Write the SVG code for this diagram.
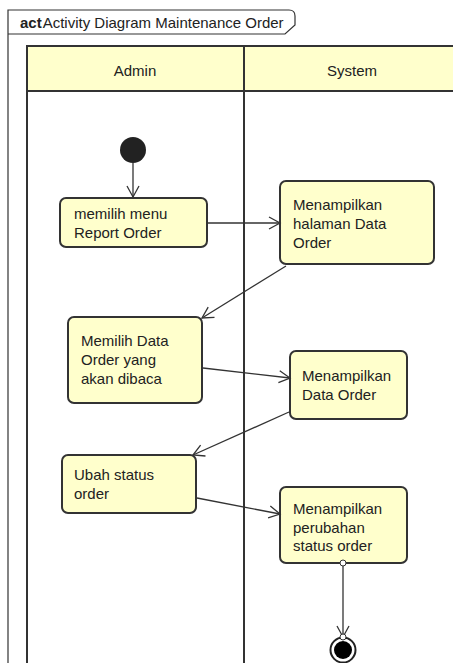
<svg xmlns="http://www.w3.org/2000/svg" width="453" height="663" viewBox="0 0 453 663">
<defs>
<marker id="ah" markerWidth="14" markerHeight="14" refX="12" refY="7" orient="auto" markerUnits="userSpaceOnUse">
<path d="M1,1 L12,7 L1,13" fill="none" stroke="#333" stroke-width="1.3"/>
</marker>
<style>
.t{font-family:"Liberation Sans",Arial,sans-serif;font-size:15px;fill:#222}
.box{fill:#ffffcc;stroke:#333;stroke-width:2}
.lane{fill:none;stroke:#333;stroke-width:2}
.c{fill:none;stroke:#333;stroke-width:1.3}
</style>
</defs>
<rect width="453" height="663" fill="#fff"/>
<g id="frame">
<path d="M8,663 L8,10 L289,10 Q295,10 295,16 L295,25 L285,34 L8,34" fill="#fff" stroke="#333" stroke-width="1.2"/>
<text class="t" x="20" y="28"><tspan font-weight="bold">act</tspan><tspan dx="1">Activity Diagram Maintenance Order</tspan></text>
</g>
<g id="lanes">
<rect x="27" y="46" width="440" height="45" fill="#ffffcc"/>
<path class="lane" d="M27,663 L27,46 L460,46 M27,91 L460,91 M244,46 L244,663"/>
<text class="t" x="135" y="76" text-anchor="middle">Admin</text>
<text class="t" x="352" y="76" text-anchor="middle">System</text>
</g>
<g id="start"><circle cx="133" cy="150" r="13" fill="#222"/></g>
<g id="n1"><rect class="box" x="60" y="198" width="147" height="49" rx="6"/>
<text class="t" x="74" y="219">memilih menu</text><text class="t" x="74" y="238">Report Order</text></g>
<g id="n2"><rect class="box" x="280" y="181" width="154" height="83" rx="6"/>
<text class="t" x="293" y="210">Menampilkan</text><text class="t" x="293" y="229">halaman Data</text><text class="t" x="293" y="248">Order</text></g>
<g id="n3"><rect class="box" x="68" y="317" width="134" height="86" rx="6"/>
<text class="t" x="81" y="346">Memilih Data</text><text class="t" x="81" y="365">Order yang</text><text class="t" x="81" y="384">akan dibaca</text></g>
<g id="n4"><rect class="box" x="290" y="351" width="117" height="68" rx="6"/>
<text class="t" x="302" y="381">Menampilkan</text><text class="t" x="302" y="400">Data Order</text></g>
<g id="n5"><rect class="box" x="62" y="455" width="134" height="58" rx="6"/>
<text class="t" x="74" y="480">Ubah status</text><text class="t" x="74" y="499">order</text></g>
<g id="n6"><rect class="box" x="280" y="487" width="127" height="76" rx="6"/>
<text class="t" x="293" y="514">Menampilkan</text><text class="t" x="293" y="533">perubahan</text><text class="t" x="293" y="551">status order</text></g>
<g id="end"><circle cx="343" cy="650" r="12.5" fill="#fff" stroke="#222" stroke-width="2"/><circle cx="343" cy="650" r="9" fill="#000"/></g>
<g id="connectors">
<path class="c" d="M133,163 L133,197" marker-end="url(#ah)"/>
<path class="c" d="M207,223 L280,223" marker-end="url(#ah)"/>
<path class="c" d="M286,266 L202,318" marker-end="url(#ah)"/>
<path class="c" d="M203,368 L290,378" marker-end="url(#ah)"/>
<path class="c" d="M289,412 L193,455" marker-end="url(#ah)"/>
<path class="c" d="M197,498 L280,514" marker-end="url(#ah)"/>
<path class="c" d="M343,563 L343,637" marker-end="url(#ah)"/>
<circle cx="343" cy="563" r="3" fill="#fff" stroke="#333" stroke-width="1"/>
<circle cx="343" cy="637" r="3" fill="#fff" stroke="#333" stroke-width="1"/>
</g>
</svg>
